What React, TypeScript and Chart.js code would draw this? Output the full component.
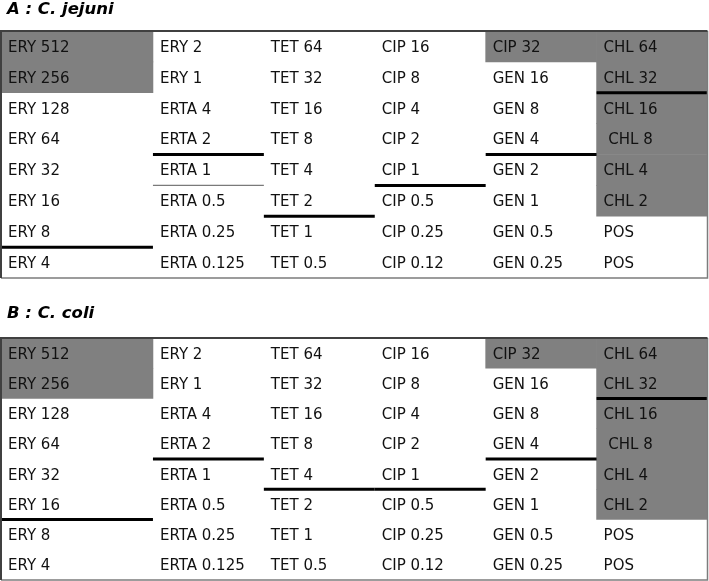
import React, { useEffect, useRef } from "react";
import { Chart, registerables } from "chart.js";

Chart.register(...registerables);

// ---------- data ----------
const TITLE_A = "A : C. jejuni";
const TITLE_B = "B : C. coli";

const COL_1 = ["ERY 512", "ERY 256", "ERY 128", "ERY 64", "ERY 32", "ERY 16", "ERY 8", "ERY 4"];
const COL_2 = ["ERY 2", "ERY 1", "ERTA 4", "ERTA 2", "ERTA 1", "ERTA 0.5", "ERTA 0.25", "ERTA 0.125"];
const COL_3 = ["TET 64", "TET 32", "TET 16", "TET 8", "TET 4", "TET 2", "TET 1", "TET 0.5"];
const COL_4 = ["CIP 16", "CIP 8", "CIP 4", "CIP 2", "CIP 1", "CIP 0.5", "CIP 0.25", "CIP 0.12"];
const COL_5 = ["CIP 32", "GEN 16", "GEN 8", "GEN 4", "GEN 2", "GEN 1", "GEN 0.5", "GEN 0.25"];
const COL_6 = ["CHL 64", "CHL 32", "CHL 16", " CHL 8", "CHL 4", "CHL 2", "POS", "POS"];
const COLUMNS = [COL_1, COL_2, COL_3, COL_4, COL_5, COL_6];

// shaded cells: [column, first row, last row]
const GRAY_CELLS: [number, number, number][] = [
  [0, 0, 1],
  [4, 0, 0],
  [5, 0, 5],
];

// cut-off lines: [column, row above the line, weight]
const CUTS_A: [number, number, string][] = [
  [5, 1, "thick"],
  [1, 3, "thick"],
  [4, 3, "thick"],
  [1, 4, "thin"],
  [3, 4, "thick"],
  [2, 5, "thick"],
  [0, 6, "thick"],
];
const CUTS_B: [number, number, string][] = [
  [5, 1, "thick"],
  [1, 3, "thick"],
  [4, 3, "thick"],
  [2, 4, "thick"],
  [3, 4, "thick"],
  [0, 5, "thick"],
];

// ---------- layout ----------
const COL_WIDTHS = [1.37, 1, 1, 1, 1, 1];
const COL_EDGES = COL_WIDTHS.reduce((acc, w) => [...acc, acc[acc.length - 1] + w], [0]);
const N_ROWS = COL_1.length;
const FONT = '"DejaVu Sans", Verdana, sans-serif';

type TableProps = {
  title: string;
  cuts: [number, number, string][];
  height: number;
  padTop: number;
  padBottom: number;
  titleY: number;
};

function TableChart({ title, cuts, height, padTop, padBottom, titleY }: TableProps) {
  const ref = useRef<HTMLCanvasElement | null>(null);

  useEffect(() => {
    if (!ref.current) return;

    const grayDatasets = GRAY_CELLS.map(([c, r0, r1]) => {
      const data: any[] = [];
      for (let r = r0; r <= r1; r++) {
        data.push({ y: r + 0.5, x: [COL_EDGES[c], COL_EDGES[c + 1]] });
      }
      return {
        type: "bar" as const,
        data,
        backgroundColor: "#808080",
        borderWidth: 0,
        grouped: false,
        barPercentage: 1,
        categoryPercentage: 1,
        order: 2,
      };
    });

    const lineDatasets = cuts.map(([c, r, w]) => ({
      type: "line" as const,
      indexAxis: "x" as const,
      data: [
        { x: COL_EDGES[c], y: r + 1 },
        { x: COL_EDGES[c + 1], y: r + 1 },
      ],
      borderColor: w === "thick" ? "#000000" : "#7a7a7a",
      borderWidth: w === "thick" ? 3 : 1.2,
      borderCapStyle: "butt" as const,
      pointRadius: 0,
      fill: false,
      tension: 0,
      order: 1,
    }));

    const tablePlugin = {
      id: "tableText",
      afterDraw(chart: any) {
        const { ctx, chartArea, scales } = chart;
        const xs = scales.x;
        const ys = scales.y;
        ctx.save();
        // title
        ctx.font = `bold italic 16.5px ${FONT}`;
        ctx.fillStyle = "#000";
        ctx.textAlign = "left";
        ctx.textBaseline = "middle";
        ctx.fillText(title, 7, titleY);
        // cell texts
        ctx.font = `15px ${FONT}`;
        ctx.fillStyle = "#111";
        COLUMNS.forEach((col, c) => {
          const x = xs.getPixelForValue(COL_EDGES[c]) + 7;
          col.forEach((label, r) => {
            const y = ys.getPixelForValue(r + 0.5) + 1.5;
            ctx.fillText(label, x, y);
          });
        });
        // borders
        const { left, right, top, bottom } = chartArea;
        ctx.lineWidth = 1.5;
        ctx.strokeStyle = "#7c7c7c";
        ctx.beginPath();
        ctx.moveTo(right, top);
        ctx.lineTo(right, bottom);
        ctx.lineTo(left, bottom);
        ctx.stroke();
        ctx.lineWidth = 2;
        ctx.strokeStyle = "#404040";
        ctx.beginPath();
        ctx.moveTo(left, bottom);
        ctx.lineTo(left, top);
        ctx.lineTo(right, top);
        ctx.stroke();
        ctx.restore();
      },
    };

    const chart = new Chart(ref.current, {
      type: "bar",
      data: { datasets: [...grayDatasets, ...lineDatasets] as any },
      options: {
        animation: false,
        responsive: false,
        indexAxis: "y",
        layout: { padding: { top: padTop, bottom: padBottom, left: 1, right: 1.5 } },
        plugins: { legend: { display: false }, title: { display: false }, tooltip: { enabled: false } },
        scales: {
          x: {
            type: "linear",
            display: false,
            offset: false,
            min: 0,
            max: COL_EDGES[COL_EDGES.length - 1],
          },
          y: {
            type: "linear",
            display: false,
            offset: false,
            grid: { offset: false },
            min: 0,
            max: N_ROWS,
            reverse: true,
            ticks: { stepSize: 1 },
          },
        },
      } as any,
      plugins: [tablePlugin],
    });
    return () => chart.destroy();
  }, []);

  return (
    <canvas
      ref={ref}
      width={709}
      height={height}
      style={{ display: "block", width: 709, height }}
    />
  );
}

export default function App() {
  return (
    <div style={{ position: "absolute", left: 0, top: 0, width: 709, height: 581, background: "#fff" }}>
      <TableChart title={TITLE_A} cuts={CUTS_A} height={290} padTop={31} padBottom={12} titleY={10} />
      <TableChart title={TITLE_B} cuts={CUTS_B} height={291} padTop={48} padBottom={1} titleY={24} />
    </div>
  );
}
